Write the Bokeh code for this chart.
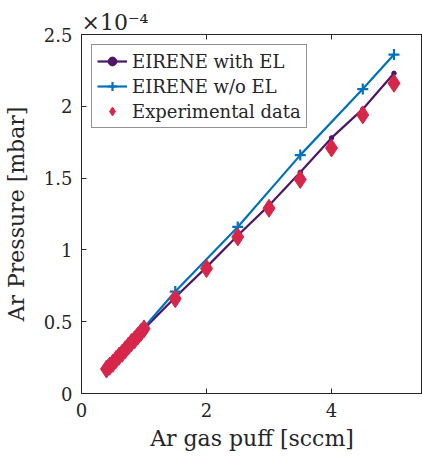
from bokeh.plotting import figure
from bokeh.models import Range1d, LinearAxis, FixedTicker, Legend
from bokeh.embed import file_html
from bokeh.resources import INLINE

# Data (pressure in units of 1e-4 mbar)
puff_exp = [0.4, 0.45, 0.5, 0.55, 0.6, 0.65, 0.7, 0.75, 0.8, 0.85, 0.9, 0.95, 1.0,
            1.5, 2.0, 2.5, 3.0, 3.5, 4.0, 4.5, 5.0]
p_exp = [0.17, 0.19, 0.21, 0.235, 0.26, 0.28, 0.305, 0.33, 0.355, 0.375, 0.40, 0.425, 0.45,
         0.66, 0.87, 1.09, 1.29, 1.49, 1.71, 1.94, 2.16]

puff_el = [0.5, 1.0, 1.5, 2.0, 2.5, 3.0, 3.5, 4.0, 4.5, 5.0]
p_el = [0.22, 0.45, 0.67, 0.88, 1.10, 1.31, 1.54, 1.78, 1.98, 2.23]

puff_noel = [0.5, 1.0, 1.5, 2.5, 3.5, 4.5, 5.0]
p_noel = [0.23, 0.46, 0.71, 1.16, 1.66, 2.12, 2.36]

x_ticks = [0, 2, 4]
y_ticks = [0, 0.5, 1, 1.5, 2, 2.5]
multiplier = "×10⁻⁴"

FONT = "DejaVu Serif"
INK = "#262626"
PURPLE = "#4E1766"
BLUE = "#0072BD"
RED = "#D7264A"

p = figure(width=422, height=460, output_backend="svg", toolbar_location=None,
           x_range=Range1d(0, 5.456), y_range=Range1d(0, 2.5),
           min_border_left=81, min_border_right=0, min_border_top=34, min_border_bottom=67)
p.grid.visible = False
p.background_fill_color = "white"
p.border_fill_color = "white"
p.outline_line_color = INK
p.outline_line_width = 1

l1 = p.line(puff_el, p_el, line_color=PURPLE, line_width=2.2)
m1 = p.scatter(puff_el, p_el, marker="circle", size=4.5, fill_color=PURPLE, line_color=PURPLE)
l2 = p.line(puff_noel, p_noel, line_color=BLUE, line_width=2.2)
m2 = p.scatter(puff_noel, p_noel, marker="cross", size=11, line_color=BLUE, line_width=2.2)
m3 = p.scatter(puff_exp, p_exp, marker="diamond", size=18, fill_color=RED, line_color=RED)

for ax in (p.xaxis[0], p.yaxis[0]):
    ax.axis_line_color = INK
    ax.major_tick_line_color = INK
    ax.major_tick_in = 5
    ax.major_tick_out = 0
    ax.minor_tick_line_color = None
    ax.major_label_text_font = FONT
    ax.major_label_text_font_size = "18px"
    ax.major_label_text_color = INK
    ax.axis_label_text_font = FONT
    ax.axis_label_text_font_size = "22px"
    ax.axis_label_text_font_style = "normal"
    ax.axis_label_text_color = INK

p.xaxis[0].ticker = FixedTicker(ticks=x_ticks)
p.yaxis[0].ticker = FixedTicker(ticks=y_ticks)
p.xaxis[0].axis_label = "Ar gas puff [sccm]"
p.yaxis[0].axis_label = "Ar Pressure [mbar]"
p.xaxis[0].major_label_standoff = 9
p.xaxis[0].axis_label_standoff = 6
p.yaxis[0].major_label_standoff = 9
p.yaxis[0].axis_label_standoff = 12

top = LinearAxis(ticker=FixedTicker(ticks=x_ticks), axis_line_color=INK,
                 major_tick_line_color=INK, major_tick_in=5, major_tick_out=0,
                 minor_tick_line_color=None, major_label_standoff=0,
                 major_label_overrides={t: "" for t in x_ticks})
p.add_layout(top, "above")

p.title.text = multiplier
p.title.align = "left"
p.title.offset = 0
p.title.standoff = 0
p.title.text_font = FONT
p.title.text_font_size = "22px"
p.title.text_font_style = "normal"
p.title.text_color = INK

legend = Legend(items=[("EIRENE with EL", [l1, m1]),
                       ("EIRENE w/o EL", [l2, m2]),
                       ("Experimental data", [m3])],
                location="top_left")
legend.margin = 10
legend.padding = 5
legend.spacing = 3
legend.glyph_width = 30
legend.glyph_height = 22
legend.label_standoff = 5
legend.label_text_font = FONT
legend.label_text_font_size = "18px"
legend.label_text_color = INK
legend.border_line_color = INK
legend.border_line_width = 1
legend.background_fill_alpha = 1
p.add_layout(legend)

open("out.html", "w").write(file_html(p, INLINE))
